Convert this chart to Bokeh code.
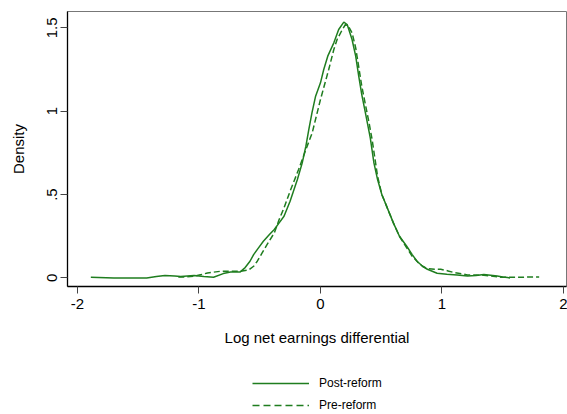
from bokeh.plotting import figure
from bokeh.models import Legend, LegendItem, FixedTicker, Range1d
from bokeh.layouts import column
from bokeh.embed import file_html
from bokeh.resources import INLINE

# ---- data ----
post_x = [-1.89, -1.70, -1.55, -1.43, -1.35, -1.28, -1.20, -1.15, -1.04, -0.96, -0.88, -0.80,
          -0.74, -0.66, -0.62, -0.58, -0.55, -0.51, -0.47, -0.42, -0.38, -0.34, -0.30, -0.25,
          -0.19, -0.15, -0.12, -0.096, -0.07, -0.04, 0.0, 0.027, 0.06, 0.11, 0.15, 0.192, 0.22,
          0.26, 0.29, 0.315, 0.34, 0.37, 0.41, 0.44, 0.47, 0.505, 0.55, 0.60, 0.65, 0.71, 0.755,
          0.795, 0.84, 0.88, 0.96, 1.04, 1.125, 1.21, 1.28, 1.345, 1.40, 1.455, 1.50, 1.54, 1.56]
post_y = [0.004, 0.0, 0.0, 0.0, 0.008, 0.014, 0.011, 0.008, 0.014, 0.008, 0.004, 0.026,
          0.036, 0.036, 0.062, 0.10, 0.14, 0.18, 0.22, 0.26, 0.29, 0.33, 0.37, 0.46,
          0.59, 0.69, 0.79, 0.89, 0.99, 1.09, 1.17, 1.25, 1.33, 1.41, 1.49, 1.534, 1.52,
          1.43, 1.33, 1.21, 1.10, 0.99, 0.84, 0.69, 0.59, 0.50, 0.42, 0.33, 0.25, 0.19, 0.14,
          0.10, 0.07, 0.052, 0.028, 0.022, 0.018, 0.012, 0.015, 0.02, 0.016, 0.012, 0.006, 0.002, 0.0]

pre_x = [-1.17, -1.10, -1.04, -0.98, -0.93, -0.82, -0.74, -0.66, -0.59, -0.55, -0.52, -0.48,
         -0.44, -0.38, -0.34, -0.30, -0.25, -0.18, -0.12, -0.068, 0.0, 0.068, 0.11, 0.137,
         0.18, 0.206, 0.23, 0.26, 0.29, 0.34, 0.40, 0.425, 0.47, 0.505, 0.55, 0.60, 0.65,
         0.71, 0.755, 0.80, 0.84, 0.88, 0.94, 0.99, 1.05, 1.10, 1.21, 1.28, 1.345, 1.42,
         1.48, 1.55, 1.62, 1.70, 1.80]
pre_y = [0.005, 0.006, 0.01, 0.02, 0.03, 0.04, 0.04, 0.04, 0.048, 0.07, 0.10, 0.15,
         0.20, 0.27, 0.35, 0.42, 0.52, 0.65, 0.77, 0.87, 1.07, 1.25, 1.37, 1.43,
         1.49, 1.52, 1.51, 1.47, 1.38, 1.15, 0.93, 0.83, 0.61, 0.50, 0.42, 0.33, 0.25,
         0.18, 0.13, 0.095, 0.07, 0.056, 0.052, 0.052, 0.042, 0.032, 0.018, 0.017, 0.016, 0.01,
         0.004, 0.004, 0.004, 0.005, 0.006]

x_ticks = [-2, -1, 0, 1, 2]
x_tick_labels = ["-2", "-1", "0", "1", "2"]
y_ticks = [0, 0.5, 1, 1.5]
y_tick_labels = ["0", ".5", "1", "1.5"]
series_labels = ["Post-reform", "Pre-reform"]
x_title = "Log net earnings differential"
y_title = "Density"

GREEN = "#1f7d1f"
FONT = "Liberation Sans"
DASH = "6 3"

p = figure(width=567, height=355, output_backend="svg", toolbar_location=None,
           x_range=Range1d(-2.082, 2.025), y_range=Range1d(-0.0515, 1.598),
           min_border_left=67, min_border_right=1, min_border_top=11, min_border_bottom=69)
p.xgrid.visible = False
p.ygrid.visible = False
p.outline_line_color = "#777777"
p.outline_line_width = 1

p.line(post_x, post_y, line_color=GREEN, line_width=1.5)
p.line(pre_x, pre_y, line_color=GREEN, line_width=1.5, line_dash=DASH)

for ax in (p.xaxis[0], p.yaxis[0]):
    ax.axis_line_color = "black"
    ax.axis_line_width = 1.3
    ax.major_tick_line_color = "#444444"
    ax.major_tick_out = 7
    ax.major_tick_in = 0
    ax.minor_tick_out = 0
    ax.minor_tick_in = 0
    ax.major_label_text_font = FONT
    ax.major_label_text_font_size = "15px"
    ax.major_label_text_color = "black"
    ax.axis_label_text_font = FONT
    ax.axis_label_text_font_size = "15px"
    ax.axis_label_text_font_style = "normal"
    ax.axis_label_text_color = "black"

p.xaxis[0].ticker = FixedTicker(ticks=x_ticks)
p.xaxis[0].major_label_overrides = {float(t): l for t, l in zip(x_ticks, x_tick_labels)}
p.xaxis[0].axis_label = x_title
p.xaxis[0].major_label_standoff = 5
p.xaxis[0].axis_label_standoff = 17

p.yaxis[0].ticker = FixedTicker(ticks=y_ticks)
p.yaxis[0].major_label_overrides = {float(t): l for t, l in zip(y_ticks, y_tick_labels)}
p.yaxis[0].major_label_orientation = "vertical"
p.yaxis[0].axis_label = y_title
p.yaxis[0].major_label_standoff = 3
p.yaxis[0].axis_label_standoff = 18

# legend strip below the plot (its key lines lie outside its own view)
q = figure(width=567, height=57, output_backend="svg", toolbar_location=None,
           x_range=Range1d(10, 11), y_range=Range1d(10, 11),
           x_axis_type=None, y_axis_type=None,
           min_border_left=0, min_border_right=0, min_border_top=0, min_border_bottom=0)
q.xgrid.visible = False
q.ygrid.visible = False
q.outline_line_color = None
k1 = q.line(post_x, post_y, line_color=GREEN, line_width=1.5)
k2 = q.line(pre_x, pre_y, line_color=GREEN, line_width=1.5, line_dash="7 4")

legend = Legend(items=[LegendItem(label=series_labels[0], renderers=[k1]),
                       LegendItem(label=series_labels[1], renderers=[k2])],
                location=(185, 0), orientation="vertical",
                border_line_color=None, background_fill_alpha=0,
                glyph_width=57, glyph_height=8, label_height=8,
                label_standoff=10, spacing=8, padding=0, margin=0,
                label_text_font=FONT, label_text_font_size="12px",
                label_text_color="black")
q.add_layout(legend, "center")

open("out.html", "w").write(file_html(column(p, q, spacing=0), INLINE))
